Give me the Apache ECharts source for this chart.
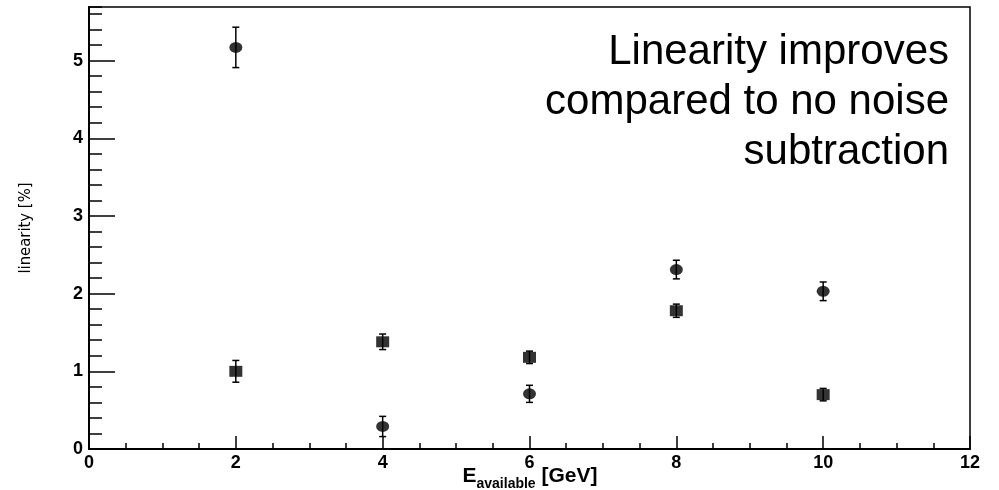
<!DOCTYPE html>
<html>
<head>
<meta charset="utf-8">
<script src="https://cdn.jsdelivr.net/npm/echarts@6/dist/echarts.min.js"></script>
<style>
html,body{margin:0;padding:0;background:#fff;}
#chart{width:999px;height:490px;}
</style>
</head>
<body>
<div id="chart"></div>
<script>
const energies = [2, 4, 6, 8, 10];
const circleValues = [5.17, 0.29, 0.71, 2.31, 2.03];
const circleErrors = [0.26, 0.13, 0.11, 0.12, 0.12];
const squareValues = [1.00, 1.38, 1.18, 1.78, 0.70];
const squareErrors = [0.14, 0.10, 0.08, 0.085, 0.08];
const xTickLabels = ['0', '2', '4', '6', '8', '10', '12'];
const yTickLabels = ['0', '1', '2', '3', '4', '5'];
const noteLines = ['Linearity improves', 'compared to no noise', 'subtraction'];
const xTitle = '{e|E}{s|available}{g| [GeV]}';
const yTitle = 'linearity [%]';

const FONT = '"Liberation Sans", Arial, Helvetica, sans-serif';
const NARROW = '"Liberation Sans Narrow", "DejaVu Sans Condensed", "Liberation Sans", sans-serif';

function buildPoints(vals, errs) {
  return energies.map((e, i) => [e, vals[i], errs[i]]);
}
const circlePts = buildPoints(circleValues, circleErrors);
const squarePts = buildPoints(squareValues, squareErrors);

function errorBarRender(params, api) {
  const x = api.value(0), y = api.value(1), err = api.value(2);
  const top = api.coord([x, y + err]);
  const bot = api.coord([x, y - err]);
  const cap = 3.5;
  const style = { stroke: '#000', lineWidth: 1.5 };
  return {
    type: 'group',
    children: [
      { type: 'line', shape: { x1: top[0], y1: top[1], x2: bot[0], y2: bot[1] }, style },
      { type: 'line', shape: { x1: top[0] - cap, y1: top[1], x2: top[0] + cap, y2: top[1] }, style },
      { type: 'line', shape: { x1: bot[0] - cap, y1: bot[1], x2: bot[0] + cap, y2: bot[1] }, style }
    ]
  };
}

const chart = echarts.init(document.getElementById('chart'), null, { renderer: 'canvas' });
const YMAX = 5.69;
const noteGraphics = noteLines.map((line, i) => ({
  type: 'text', z: 10,
  x: 949, y: 31 + i * 50,
  style: { text: line, fontFamily: FONT, fontSize: 42, fill: '#000', align: 'right', verticalAlign: 'top', textAlign: 'right', textVerticalAlign: 'top' }
}));
noteGraphics.push({
  type: 'text', z: 10, x: 530, y: 476,
  style: {
    text: xTitle, align: 'center', verticalAlign: 'middle', fill: '#000', fontFamily: FONT,
    rich: {
      e: { fontSize: 21, fontWeight: 'bold', fontFamily: FONT, fill: '#000', lineHeight: 30, verticalAlign: 'middle' },
      s: { fontSize: 14, fontWeight: 'bold', fontFamily: FONT, fill: '#000', lineHeight: 14, verticalAlign: 'bottom' },
      g: { fontSize: 21, fontWeight: 'bold', fontFamily: FONT, fill: '#000', lineHeight: 30, verticalAlign: 'middle' }
    }
  }
});

const option = {
  backgroundColor: '#fff',
  animation: false,
  grid: { left: 89, right: 29, top: 7, bottom: 41, outerBoundsMode: 'none', containLabel: false, show: true, borderColor: '#000', borderWidth: 1.5, backgroundColor: 'transparent' },
  xAxis: [{
    type: 'value', min: 0, max: 12, interval: 2,
    axisLine: { show: true, onZero: false, lineStyle: { color: '#000', width: 2 } },
    axisTick: { show: true, inside: true, length: 13, lineStyle: { color: '#000', width: 1.5 } },
    minorTick: { show: true, splitNumber: 4, length: 6, lineStyle: { color: '#000', width: 1.5 } },
    splitLine: { show: false },
    axisLabel: {
      color: '#000', fontFamily: FONT, fontSize: 18, fontWeight: 'bold', margin: 5,
      formatter: v => xTickLabels[Math.round(v / 2)] !== undefined ? xTickLabels[Math.round(v / 2)] : ''
    }
  }],
  yAxis: [{
    type: 'value', min: 0, max: YMAX, interval: 1,
    axisLine: { show: true, onZero: false, lineStyle: { color: '#000', width: 2 } },
    axisTick: { show: true, inside: true, length: 26, lineStyle: { color: '#000', width: 1.5 } },
    splitLine: { show: false },
    axisLabel: {
      color: '#000', fontFamily: FONT, fontSize: 18, fontWeight: 'bold', margin: 6, showMaxLabel: false,
      formatter: v => { const i = Math.round(v); return Math.abs(v - i) < 1e-6 && yTickLabels[i] !== undefined ? yTickLabels[i] : ''; }
    },
    name: yTitle, nameLocation: 'middle', nameGap: 55,
    nameTextStyle: { color: '#000', fontFamily: NARROW, fontSize: 16.5 }
  }, {
    type: 'value', min: 0, max: YMAX, interval: 0.2, position: 'left',
    axisLine: { show: false },
    axisTick: { show: true, inside: true, length: 13, lineStyle: { color: '#000', width: 1.5 } },
    axisLabel: { show: false },
    splitLine: { show: false }
  }],
  series: [
    { type: 'custom', renderItem: errorBarRender, data: circlePts, encode: { x: 0, y: 1 }, z: 2 },
    { type: 'custom', renderItem: errorBarRender, data: squarePts, encode: { x: 0, y: 1 }, z: 2 },
    { type: 'scatter', data: circlePts, symbol: 'circle', symbolSize: [13, 11], itemStyle: { color: '#000' }, z: 3 },
    { type: 'scatter', data: squarePts, symbol: 'rect', symbolSize: [13, 11], itemStyle: { color: '#000' }, z: 3 }
  ],
  graphic: noteGraphics
};
chart.setOption(option);
</script>
</body>
</html>
